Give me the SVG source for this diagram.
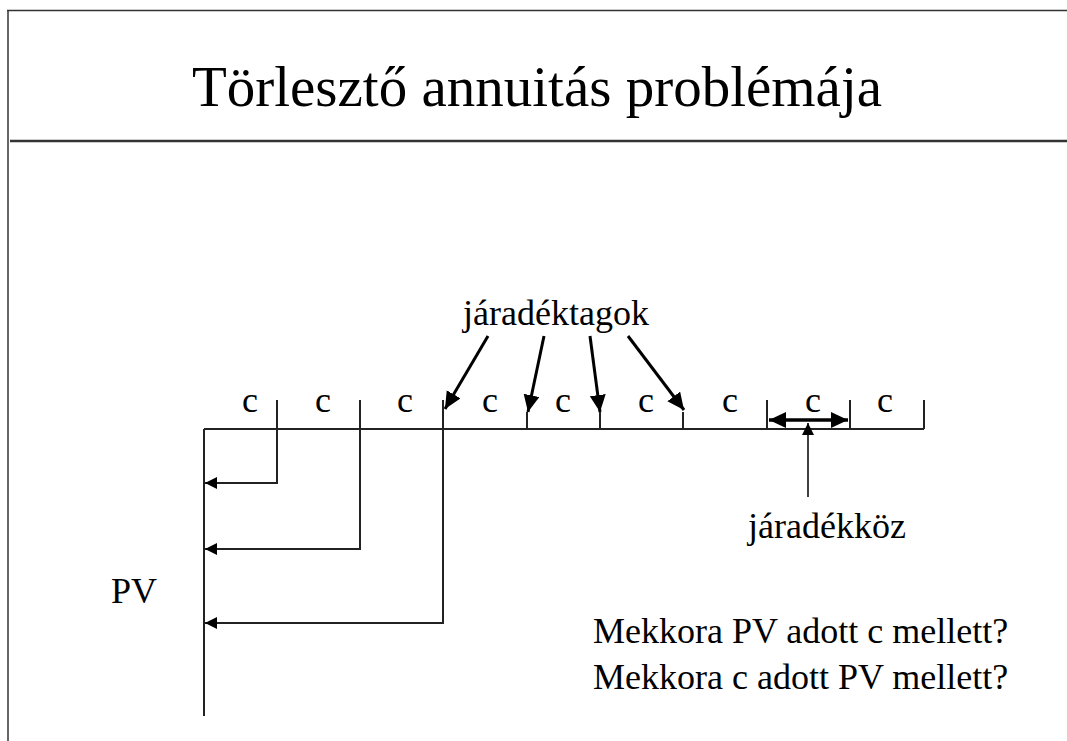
<svg xmlns="http://www.w3.org/2000/svg" width="1067" height="741" viewBox="0 0 1067 741">
<defs>
<style>
text{font-family:"Liberation Serif","Times New Roman",serif;fill:#000}
.t{font-size:36px}
.ln{stroke:#222;stroke-width:2;fill:none}
.bold{stroke:#000;stroke-width:3.5;fill:none}
.thin{stroke:#000;stroke-width:1.5;fill:none}
</style>
<marker id="ah" markerUnits="userSpaceOnUse" markerWidth="20" markerHeight="18" refX="17" refY="8" orient="auto">
<path d="M0,0 L17,8 L0,16 z" fill="#000"/>
</marker>
<marker id="ahs" markerUnits="userSpaceOnUse" markerWidth="14" markerHeight="14" refX="12" refY="6" orient="auto">
<path d="M0,0 L12,6 L0,12 z" fill="#000"/>
</marker>
<marker id="ahd" markerUnits="userSpaceOnUse" markerWidth="20" markerHeight="18" refX="17" refY="8" orient="auto-start-reverse">
<path d="M0,0 L17,8 L0,16 z" fill="#000"/>
</marker>
</defs>
<rect width="1067" height="741" fill="#fff"/>
<g id="frame">
<path d="M7,10.5 H1067" stroke="#333" stroke-width="1.5" fill="none"/>
<path d="M8,10 V741" stroke="#333" stroke-width="1.5" fill="none"/>
<path d="M10,141 H1067" stroke="#333" stroke-width="2.5" fill="none"/>
</g>
<g id="title"><text x="537" y="106" font-size="57" text-anchor="middle">Törlesztő annuitás problémája</text></g>
<g id="timeline">
<path class="ln" d="M204,429 H924 M204,429 V716"/>
<path class="ln" d="M527,412 V429 M600,412 V429 M683,412 V429 M767,400 V429 M850,400 V429 M924,400 V429"/>
</g>
<g id="labels" class="t" text-anchor="middle">
<text x="250" y="412">c</text>
<text x="323" y="412">c</text>
<text x="405" y="412">c</text>
<text x="490" y="412">c</text>
<text x="563" y="412">c</text>
<text x="646" y="412">c</text>
<text x="730" y="412">c</text>
<text x="813" y="412">c</text>
<text x="885" y="412">c</text>
</g>
<g id="jaradektagok"><text class="t" x="556" y="325" text-anchor="middle">járadéktagok</text></g>
<g id="jaradekkoz"><text class="t" x="827" y="538" text-anchor="middle">járadékköz</text></g>
<g id="pv"><text class="t" x="134" y="603" text-anchor="middle">PV</text></g>
<g id="questions" class="t">
<text x="593" y="643">Mekkora PV adott c mellett?</text>
<text x="593" y="689">Mekkora c adott PV mellett?</text>
</g>
<g id="connectors">
<path class="ln" d="M277,400 V483 H205" marker-end="url(#ahs)"/>
<path class="ln" d="M360,400 V549 H205" marker-end="url(#ahs)"/>
<path class="ln" d="M443,400 V623 H205" marker-end="url(#ahs)"/>
<path class="bold" style="stroke-width:3" d="M488,336 L445,409" marker-end="url(#ah)"/>
<path class="bold" style="stroke-width:3" d="M544,336 L528,412" marker-end="url(#ah)"/>
<path class="bold" style="stroke-width:3" d="M590,336 L600,412" marker-end="url(#ah)"/>
<path class="bold" style="stroke-width:3" d="M628,336 L684,410" marker-end="url(#ah)"/>
<path class="bold" d="M769,420 H848" marker-start="url(#ahd)" marker-end="url(#ahd)"/>
<path class="thin" d="M808,497 V423" marker-end="url(#ahs)"/>
</g>
</svg>
